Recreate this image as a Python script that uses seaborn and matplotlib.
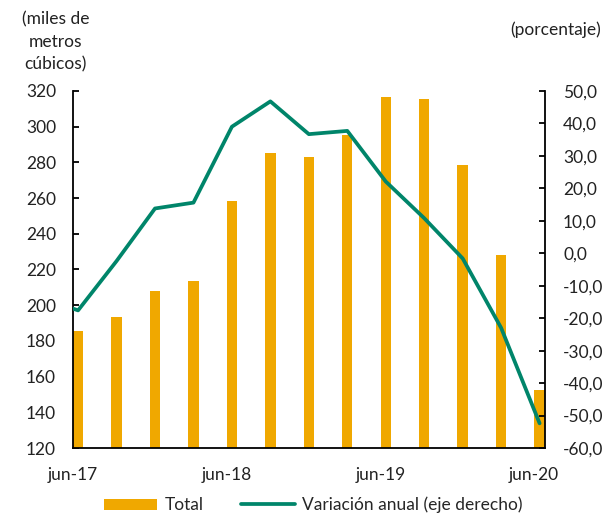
import numpy as np
import pandas as pd
import matplotlib
matplotlib.use("Agg")
import matplotlib.pyplot as plt
import seaborn as sns

# quarterly data, jun-17 .. jun-20
quarters = ["jun-17", "sep-17", "dic-17", "mar-18", "jun-18", "sep-18", "dic-18",
            "mar-19", "jun-19", "sep-19", "dic-19", "mar-20", "jun-20"]
total = [185.5, 193.6, 208.0, 213.6, 258.4, 285.1, 282.9, 295.4, 316.5, 315.4,
         278.4, 228.1, 152.5]
# annual variation (%), first value is mar-17 (cut off by the axis)
variacion = [-13.5, -17.6, -2.4, 13.8, 15.6, 39.0, 46.8, 36.7, 37.7, 22.1, 10.8,
             -1.6, -23.0, -52.4]

xtick_labels = ["jun-17", "jun-18", "jun-19", "jun-20"]
left_ticks = [120, 140, 160, 180, 200, 220, 240, 260, 280, 300, 320]
right_ticks = [-60, -50, -40, -30, -20, -10, 0, 10, 20, 30, 40, 50]
right_labels = ["-60,0", "-50,0", "-40,0", "-30,0", "-20,0", "-10,0", "0,0",
                "10,0", "20,0", "30,0", "40,0", "50,0"]

bar_color = "#F0A800"
line_color = "#00856A"

sns.set_style("white")
plt.rcParams["font.family"] = ["Lato", "DejaVu Sans"]
fs = 12.5

df_bar = pd.DataFrame({"x": np.arange(len(total)) + 0.14, "total": total})
df_line = pd.DataFrame({"x": np.arange(-1, len(total)) + 0.14, "var": variacion})

fig = plt.figure(figsize=(6.14, 5.19), dpi=100)
ax = fig.add_axes([0.1184, 0.1368, 0.8876 - 0.1184, 0.8247 - 0.1368])

sns.barplot(data=df_bar, x="x", y="total", native_scale=True, width=0.27,
            color=bar_color, saturation=1, linewidth=0, ax=ax, label="Total")
ax.set_ylim(120, 320)
ax.set_yticks(left_ticks)
ax.set_xlim(0, 12.28)
ax.set_xticks([0, 4, 8, 12])
ax.set_xticklabels(xtick_labels)
ax.set_xlabel("")
ax.set_ylabel("")

ax2 = ax.twinx()
sns.lineplot(data=df_line, x="x", y="var", color=line_color, lw=2.7, ax=ax2,
             label="Variación anual (eje derecho)", legend=False)
ax2.set_ylim(-60, 50)
ax2.set_yticks(right_ticks)
ax2.set_yticklabels(right_labels)
ax2.set_xlim(0, 12.28)
ax2.set_ylabel("")

for a in (ax, ax2):
    for s in a.spines.values():
        s.set_visible(False)
    a.grid(False)
ax.spines["left"].set_visible(True)
ax.spines["bottom"].set_visible(True)
ax2.spines["right"].set_visible(True)
for s in (ax.spines["left"], ax.spines["bottom"], ax2.spines["right"]):
    s.set_color("black")
    s.set_linewidth(1.3)

ax.tick_params(axis="y", direction="in", length=4, width=1.3, pad=12, colors="black",
               labelcolor="#222222", labelsize=fs)
ax.tick_params(axis="x", direction="in", length=4, width=1.3, pad=14, colors="black",
               labelcolor="#222222", labelsize=fs)
ax2.tick_params(axis="y", direction="in", length=4, width=1.3, pad=13, colors="black",
                labelcolor="#222222", labelsize=fs)

fig.text(0.091, 0.978, "(miles de\nmetros\ncúbicos)", ha="center", va="top",
         fontsize=fs, color="#222222", linespacing=1.5)
fig.text(0.905, 0.942, "(porcentaje)", ha="center", va="center",
         fontsize=fs, color="#222222")

h1, l1 = ax.get_legend_handles_labels()
h2, l2 = ax2.get_legend_handles_labels()
if ax.get_legend() is not None:
    ax.get_legend().remove()
fig.legend(h1 + h2, l1 + l2, loc="center", bbox_to_anchor=(0.51, 0.027), ncol=2,
           frameon=False, fontsize=fs, handlelength=3.1, handleheight=0.6,
           columnspacing=2.2, handletextpad=0.4)

fig.savefig("out.png", dpi=100)
